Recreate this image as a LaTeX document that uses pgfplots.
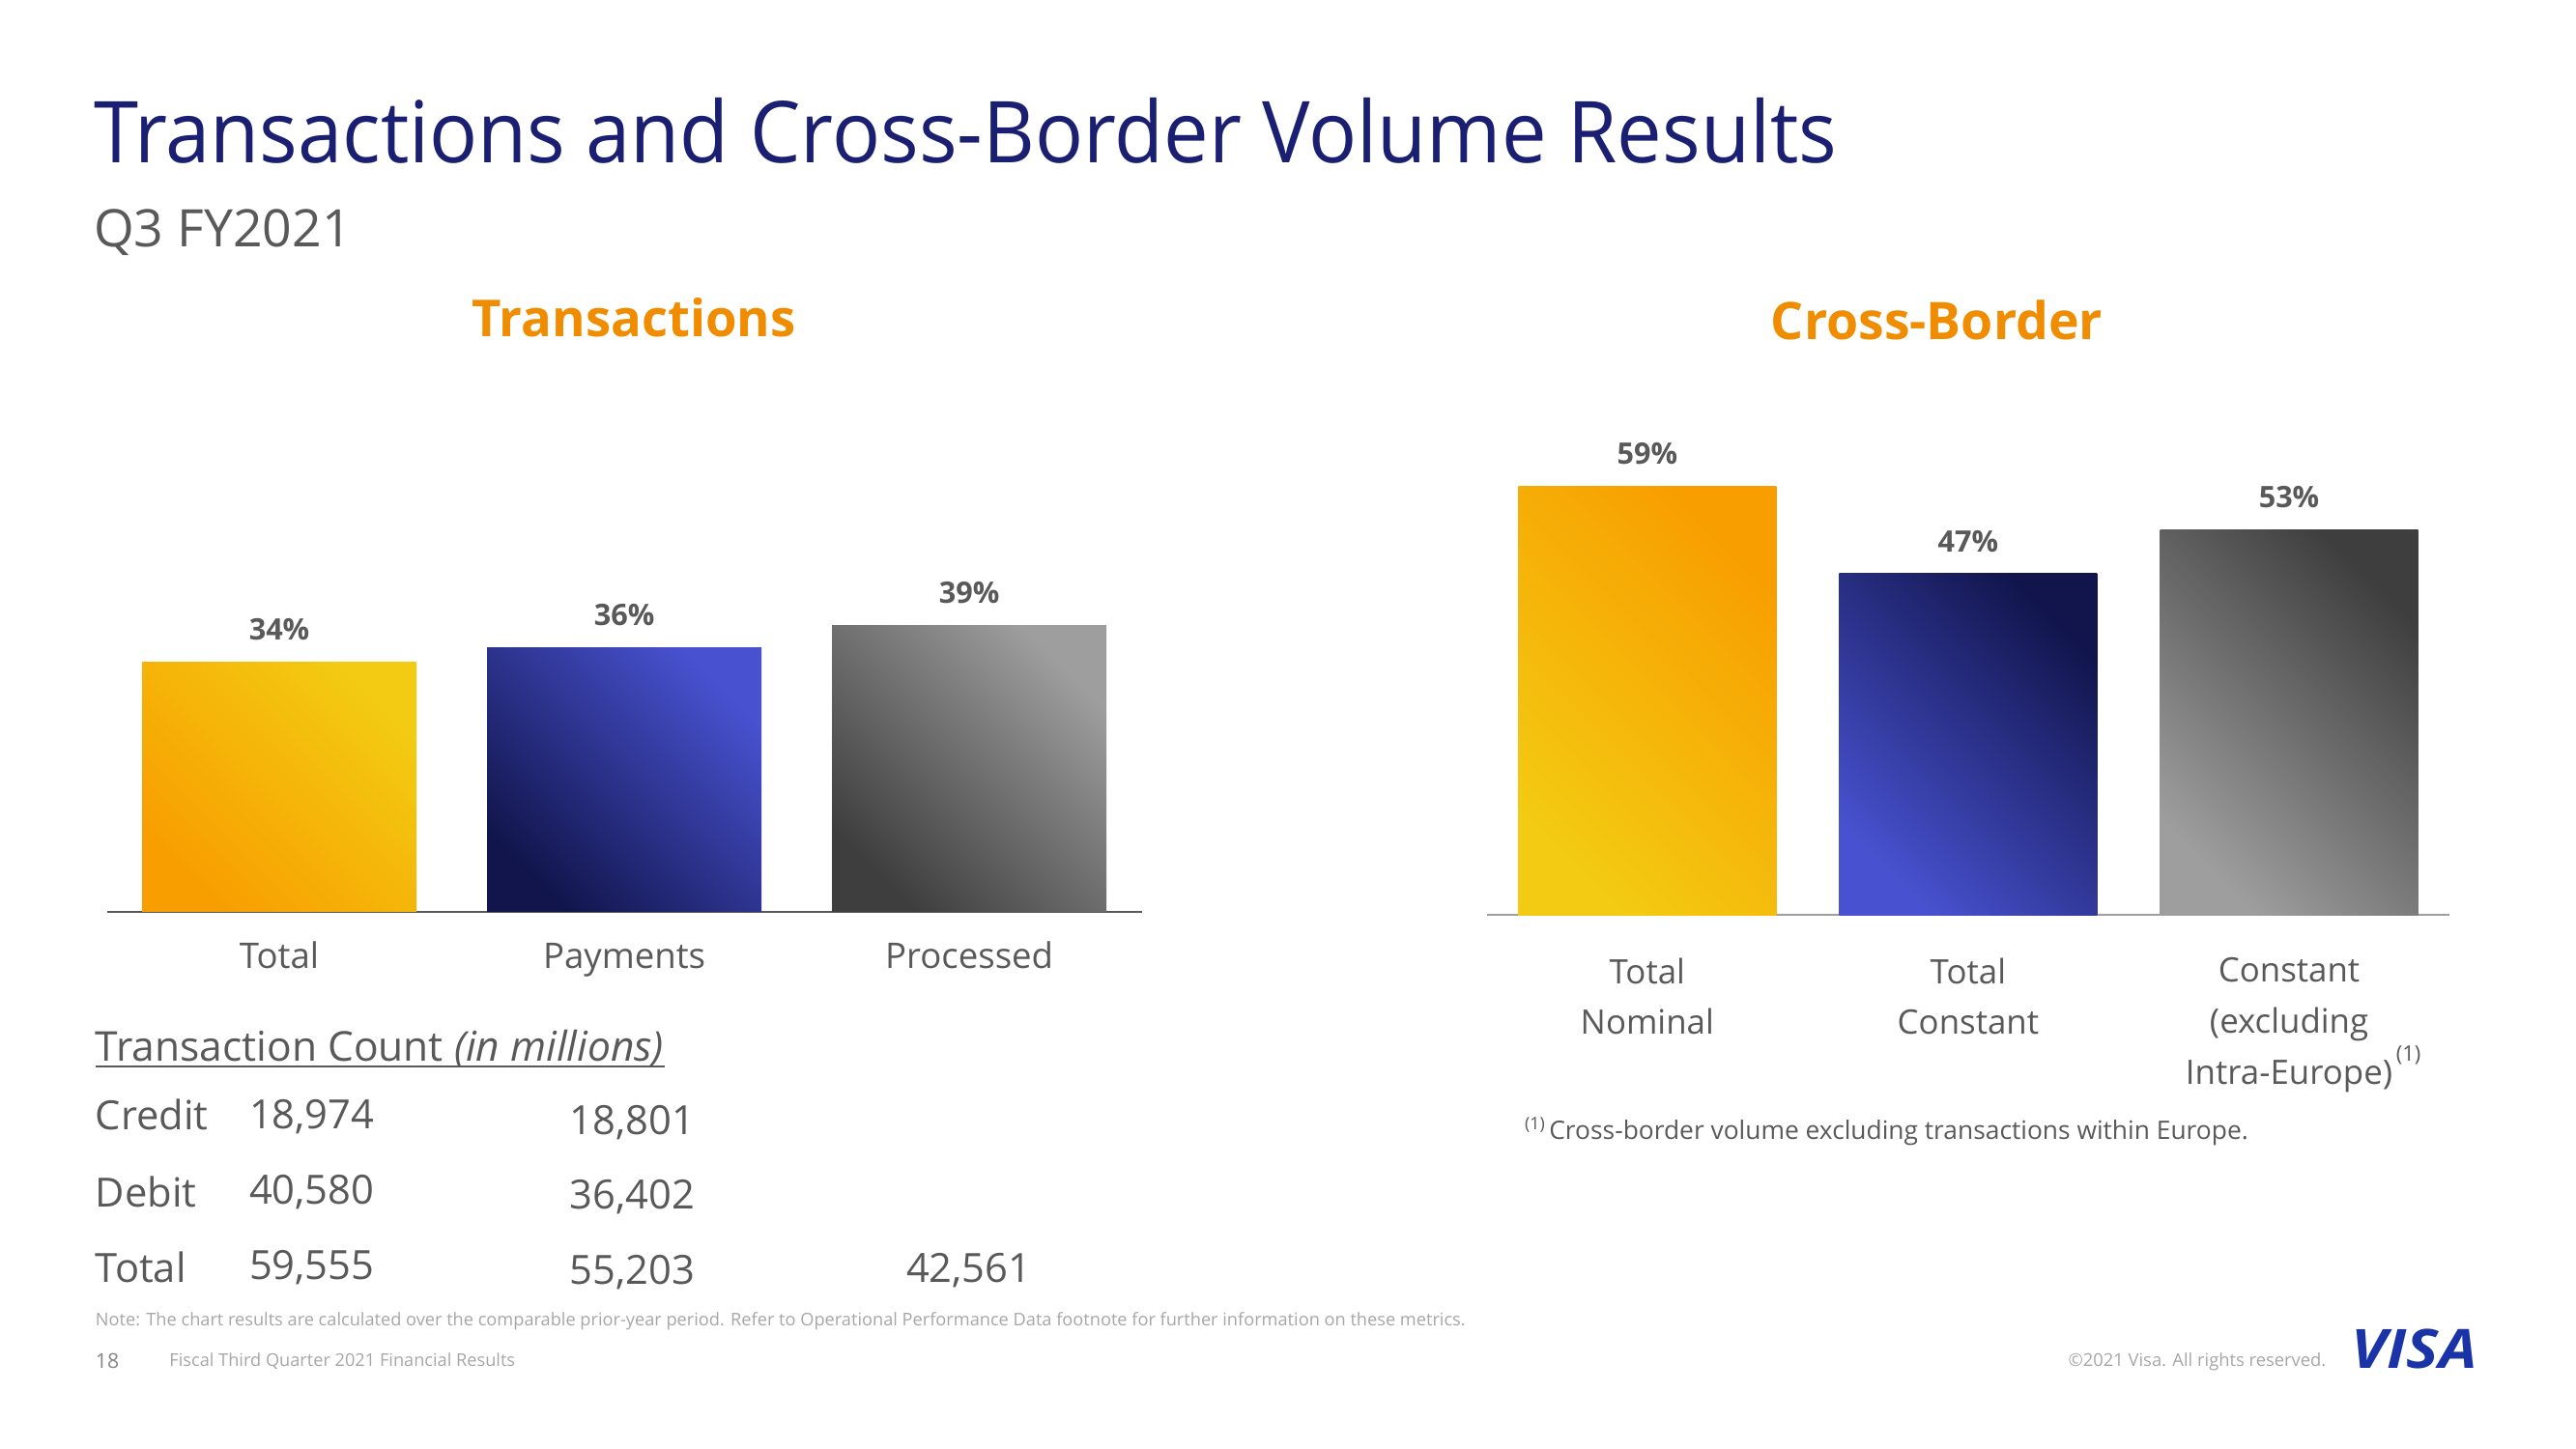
\documentclass[border=0pt]{standalone}
\usepackage{pgfplots}
\pgfplotsset{compat=1.18}
\usepackage{fontspec}
\setmainfont{Open Sans}
\newfontfamily\titlefont{Open Sans}[FakeStretch=0.94]
\definecolor{visanavy}{HTML}{1A1F71}
\definecolor{txtgray}{HTML}{595959}
\definecolor{notegray}{HTML}{A6A6A6}
\definecolor{hdorange}{HTML}{F08C00}
\definecolor{visablue}{HTML}{1A34A8}
\definecolor{orgA}{HTML}{F89E00}
\definecolor{yelB}{HTML}{F3CB12}
\definecolor{navA}{HTML}{11154C}
\definecolor{navB}{HTML}{4852D0}
\definecolor{gryA}{HTML}{3E3E3E}
\definecolor{gryB}{HTML}{9E9E9E}

\pgfplotsset{
  barchart/.style={
    scale only axis, clip=false,
    xmin=-0.5, xmax=2.5, ymin=0,
    axis x line*=bottom, axis y line=none,
    xtick={0,1,2}, major tick length=0pt,
    ytick=\empty,
    /pgf/number format/assume math mode=true,
    nodes near coords={\pgfmathprintnumber{\pgfplotspointmeta}\%},
    every node near coord/.append style={font=\bfseries\fontsize{18}{20}\selectfont, text=txtgray, inner sep=0pt, yshift=13pt},
  },
}

\begin{document}
\begin{tikzpicture}[x=1pt,y=1pt]
\path[use as bounding box] (0pt,0pt) rectangle (1568pt,882pt);

\node[anchor=base west, inner sep=0pt, text=visanavy, font=\titlefont\fontsize{52}{60}\selectfont] at (57pt,783pt) {Transactions and Cross-Border Volume Results};
\node[anchor=base west, inner sep=0pt, text=txtgray, font=\fontsize{31.5}{36}\selectfont] at (57pt,732pt) {Q3 FY2021};
\node[anchor=base, inner sep=0pt, text=hdorange, font=\bfseries\fontsize{31}{36}\selectfont] at (386pt,677pt) {Transactions};
\node[anchor=base, inner sep=0pt, text=hdorange, font=\bfseries\fontsize{31.5}{36}\selectfont] at (1179pt,675pt) {Cross-Border};

\begin{axis}[barchart,
  at={(65pt,327pt)}, anchor=south west, width=630pt, height=178.8pt, ymax=40,
  x axis line style={-, draw=txtgray, line width=1.2pt},
  xticklabels={Total,Payments,Processed},
  xticklabel style={font=\fontsize{21.5}{26}\selectfont, text=txtgray, inner sep=0pt, anchor=base, yshift=-34.5pt},
]
\addplot[ybar, bar width=167pt, bar shift=0pt, draw=none, top color=yelB, bottom color=orgA, shading angle=-45] coordinates {(0,34)};
\addplot[ybar, bar width=167pt, bar shift=0pt, draw=none, top color=navB, bottom color=navA, shading angle=-45] coordinates {(1,36)};
\addplot[ybar, bar width=167pt, bar shift=0pt, draw=none, top color=gryB, bottom color=gryA, shading angle=-45] coordinates {(2,39)};
\end{axis}

\begin{axis}[barchart,
  at={(905pt,325pt)}, anchor=south west, width=586pt, height=265.2pt, ymax=60,
  x axis line style={-, draw=gryB, line width=1.2pt},
  xticklabels={{Total\\Nominal},{Total\\Constant},{Constant\\(excluding\\Intra-Europe)\rlap{\raisebox{14pt}{\fontsize{13}{13}\selectfont\,(1)}}}},
  xticklabel style={font=\fontsize{20.5}{31}\selectfont, text=txtgray, inner sep=0pt, align=center, anchor=north, yshift=-26pt},
]
\addplot[ybar, bar width=157pt, bar shift=0pt, draw=none, top color=orgA, bottom color=yelB, shading angle=-45] coordinates {(0,59)};
\addplot[ybar, bar width=157pt, bar shift=0pt, draw=none, top color=navA, bottom color=navB, shading angle=-45] coordinates {(1,47)};
\addplot[ybar, bar width=157pt, bar shift=0pt, draw=none, top color=gryA, bottom color=gryB, shading angle=-45] coordinates {(2,53)};
\end{axis}

\node[anchor=base west, inner sep=0pt, text=txtgray, font=\fontsize{15.5}{18}\selectfont] at (928pt,188pt) {\raisebox{6pt}{\fontsize{10.5}{11}\selectfont(1)}\,Cross-border volume excluding transactions within Europe.};

% transaction count table
\node[anchor=base west, inner sep=0pt, text=txtgray, font=\fontsize{25}{28}\selectfont] (hdr) at (58pt,236pt) {Transaction Count \textit{(in millions)}};
\draw[txtgray, line width=1.3pt] ([yshift=-3.5pt]hdr.base west) -- ([yshift=-3.5pt]hdr.base east);
\begin{scope}[every node/.style={inner sep=0pt, text=txtgray, font=\fontsize{24.5}{28}\selectfont}]
\node[anchor=base west] at (58pt,194pt) {Credit};
\node[anchor=base west] at (58pt,147pt) {Debit};
\node[anchor=base west] at (58pt,101pt) {Total};
\node[anchor=base east] at (228pt,195pt) {18,974};
\node[anchor=base east] at (228pt,149pt) {40,580};
\node[anchor=base east] at (228pt,103pt) {59,555};
\node[anchor=base east] at (423pt,191pt) {18,801};
\node[anchor=base east] at (423pt,146pt) {36,402};
\node[anchor=base east] at (423pt,100pt) {55,203};
\node[anchor=base east] at (628pt,101pt) {42,561};
\end{scope}

% footer
\node[anchor=base west, inner sep=0pt, text=notegray, font=\fontsize{10.7}{12}\selectfont] at (58pt,75pt) {Note: The chart results are calculated over the comparable prior-year period. Refer to Operational Performance Data footnote for further information on these metrics.};
\node[anchor=base west, inner sep=0pt, text=notegray!80!black, font=\fontsize{12.5}{14}\selectfont] at (58pt,49pt) {18};
\node[anchor=base west, inner sep=0pt, text=notegray, font=\fontsize{10.7}{12}\selectfont] at (103pt,50pt) {Fiscal Third Quarter 2021 Financial Results};
\node[anchor=base east, inner sep=0pt, text=notegray, font=\fontsize{10.8}{12}\selectfont] at (1416pt,50pt) {©2021 Visa. All rights reserved.};
\node[anchor=base west, inner sep=0pt, text=visablue, font=\bfseries\itshape\fontsize{33}{36}\selectfont] at (1431pt,49pt) {\scalebox{1.12}[1]{VISA}};
\end{tikzpicture}
\end{document}
